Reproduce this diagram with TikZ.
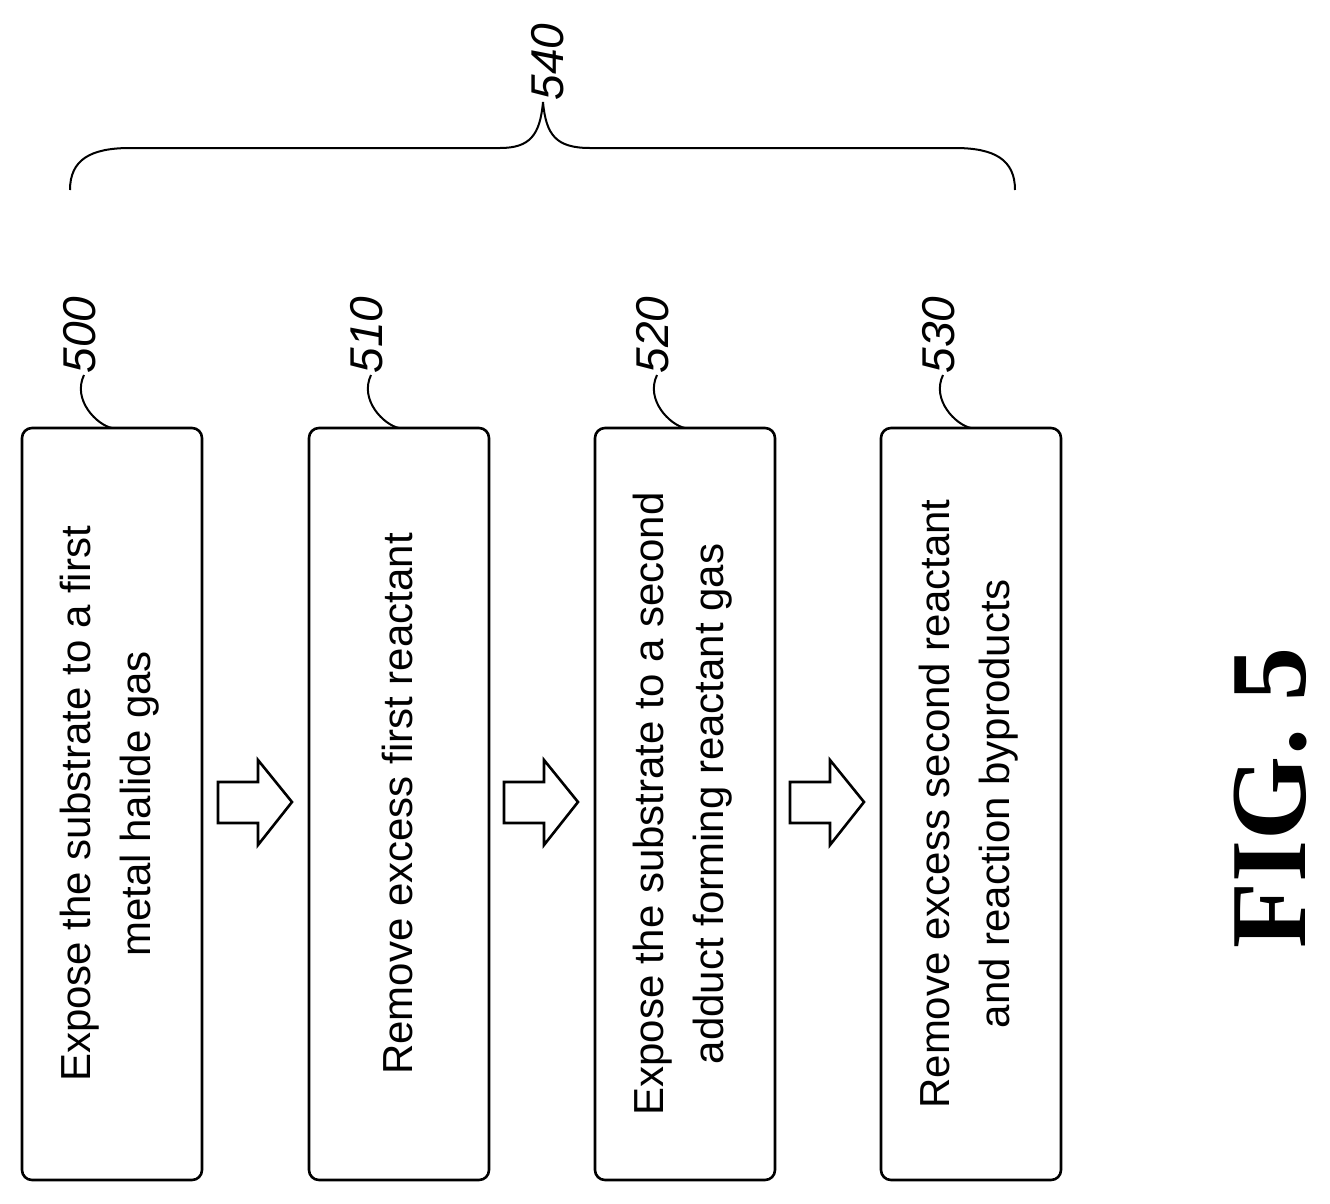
\documentclass[tikz,border=0pt]{standalone}
\usepackage{fontspec}
\setmainfont{Liberation Sans}
\newfontfamily\serifx{Liberation Serif}
\begin{document}
\begin{tikzpicture}[x=1pt,y=-1pt,
 box/.style={draw,line width=2.6pt,rounded corners=10pt},
 txt/.style={rotate=90,align=center,font=\fontsize{42}{60}\selectfont},
 lbl/.style={rotate=90,font=\fontsize{46}{50}\selectfont\itshape},
 lead/.style={line width=2pt},
 harrow/.style={draw,line width=2.6pt}]
\useasboundingbox (0,0) rectangle (1330,1203);
\foreach \n/\x/\t/\l in {a/22/{Expose the substrate to a first\\metal halide gas}/500,
 b/309/{Remove excess first reactant}/510,
 c/595/{Expose the substrate to a second\\adduct forming reactant gas}/520,
 d/881/{Remove excess second reactant\\and reaction byproducts}/530}{
 \draw[box] (\x,428) rectangle (\x+180,1180);
 \node[txt] (t\n) at (\x+88,804) {\t};
 \node[lbl] (l\n) at (\x+58,335) {\l};
 \coordinate (c\n) at (\x+90,428);
 \draw[lead] (c\n) .. controls (\x+75,425) and (\x+50,400) .. (\x+62,375);
}
\foreach \x in {218,504,790}{
 \draw[harrow] (\x,782) -- (\x+40,782) -- (\x+40,760) -- (\x+74,802) -- (\x+40,845) -- (\x+40,823) -- (\x,823) -- cycle;
}
\node[lbl] (l540) at (548,62) {540};
\draw[lead] (70,190) .. controls (70,160) and (90,148) .. (130,148) -- (500,148)
 .. controls (530,148) and (540,135) .. (543,102);
\draw[lead] (543,102) .. controls (546,135) and (556,148) .. (590,148) -- (955,148)
 .. controls (995,148) and (1015,160) .. (1015,190);
\node[rotate=90,font=\serifx\bfseries\fontsize{108}{108}\selectfont] (fig) at (1270,798) {FIG. 5};
\end{tikzpicture}
\end{document}
